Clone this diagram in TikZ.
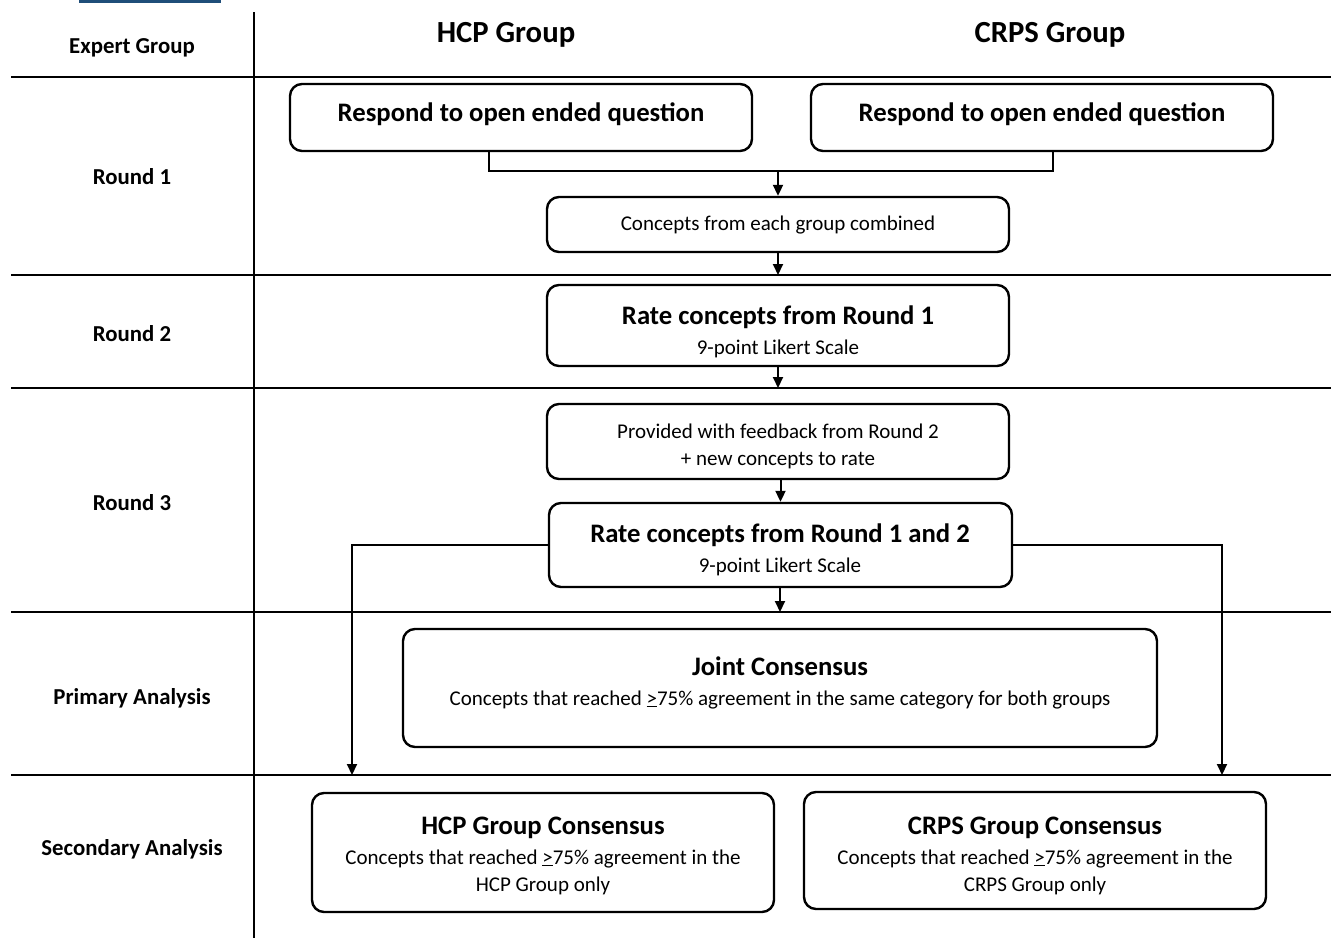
\documentclass[tikz,border=0pt]{standalone}
\usepackage{fontspec}
\setmainfont{Carlito}
\usetikzlibrary{arrows.meta}
\definecolor{barblue}{RGB}{31,78,121}
\begin{document}
\begin{tikzpicture}[x=1pt,y=-1pt,
  box/.style={draw,line width=2.4pt,rounded corners=12pt,inner sep=0pt},
  txt/.style={inner sep=0pt,text height=0.9em,text depth=0.1em},
  gridline/.style={line width=1.6pt},
  conn/.style={line width=2pt},
  arr/.style={line width=2pt,-{Triangle[length=11pt,width=10pt]}},
  rowlbl/.style={txt,font=\fontsize{22.8}{26}\selectfont\bfseries},
  hdr/.style={txt,font=\fontsize{30.7}{34}\selectfont\bfseries},
  bigt/.style={txt,font=\fontsize{26.7}{30}\selectfont\bfseries},
  smallt/.style={txt,font=\fontsize{21}{25}\selectfont},
]
\useasboundingbox (0,0) rectangle (1331,938);
\fill[barblue] (79,0) rectangle (221,3);

% grid
\draw[gridline] (254,12) -- (254,938);
\foreach \yy in {77,275,388,612,775} \draw[gridline] (11,\yy) -- (1331,\yy);

% headers and row labels
\node[rowlbl] (hexp) at (132,49) {Expert Group};
\node[hdr] (hhcp) at (506,38) {HCP Group};
\node[hdr] (hcrps) at (1050,38) {CRPS Group};
\node[rowlbl] (lr1) at (132,180) {Round 1};
\node[rowlbl] (lr2) at (132,337) {Round 2};
\node[rowlbl] (lr3) at (132,506) {Round 3};
\node[rowlbl] (lpa) at (132,700) {Primary Analysis};
\node[rowlbl] (lsa) at (132,851) {Secondary Analysis};

% boxes
\node[box,minimum width=462pt,minimum height=67pt] (r1a) at (521,117.5) {};
\node[box,minimum width=462pt,minimum height=67pt] (r1b) at (1042,117.5) {};
\node[box,minimum width=462pt,minimum height=55pt] (comb) at (778,224.5) {};
\node[box,minimum width=462pt,minimum height=81pt] (r2) at (778,325.5) {};
\node[box,minimum width=462pt,minimum height=75pt] (fb) at (778,441.5) {};
\node[box,minimum width=463pt,minimum height=84pt] (r3) at (780.5,545) {};
\node[box,minimum width=754pt,minimum height=118pt] (joint) at (780,688) {};
\node[box,minimum width=462pt,minimum height=119pt] (hcpc) at (543,852.5) {};
\node[box,minimum width=462pt,minimum height=117pt] (crpsc) at (1035,850.5) {};

% box texts
\node[bigt] (t1a) at (521,117) {Respond to open ended question};
\node[bigt] (t1b) at (1042,117) {Respond to open ended question};
\node[smallt] (tcomb) at (778,226) {Concepts from each group combined};
\node[bigt] (t2) at (778,320) {Rate concepts from Round 1};
\node[smallt] (t2s) at (778,350) {9-point Likert Scale};
\node[smallt] (tfb1) at (778,434) {Provided with feedback from Round 2};
\node[smallt] (tfb2) at (778,461) {+ new concepts to rate};
\node[bigt] (t3) at (780,538) {Rate concepts from Round 1 and 2};
\node[smallt] (t3s) at (780,568) {9-point Likert Scale};
\node[bigt] (tj) at (780,671) {Joint Consensus};
\node[smallt] (tjs) at (780,701) {Concepts that reached \underline{>}75\% agreement in the same category for both groups};
\node[bigt] (th) at (543,830) {HCP Group Consensus};
\node[smallt] (th1) at (543,860) {Concepts that reached \underline{>}75\% agreement in the};
\node[smallt] (th2) at (543,887) {HCP Group only};
\node[bigt] (tc) at (1035,830) {CRPS Group Consensus};
\node[smallt] (tc1) at (1035,860) {Concepts that reached \underline{>}75\% agreement in the};
\node[smallt] (tc2) at (1035,887) {CRPS Group only};

% connectors
\coordinate (ja) at (489,171);
\coordinate (jb) at (1053,171);
\coordinate (l2) at (778,275);
\coordinate (l3) at (778,388);
\coordinate (l4) at (780,612);
\coordinate (hl) at (352,775);
\coordinate (hr) at (1222,775);
\draw[conn] (ja |- r1a.south) -- (ja) -- (jb) -- (jb |- r1b.south);
\draw[arr] (comb.north |- ja) -- (comb.north);
\draw[arr] (comb.south) -- (l2);
\draw[arr] (r2.south) -- (l3);
\draw[arr] (r3.north |- fb.south) -- (r3.north);
\draw[arr] (r3.south -| l4) -- (l4);
\draw[arr] (r3.west) -| (hl);
\draw[arr] (r3.east) -| (hr);
\end{tikzpicture}
\end{document}
